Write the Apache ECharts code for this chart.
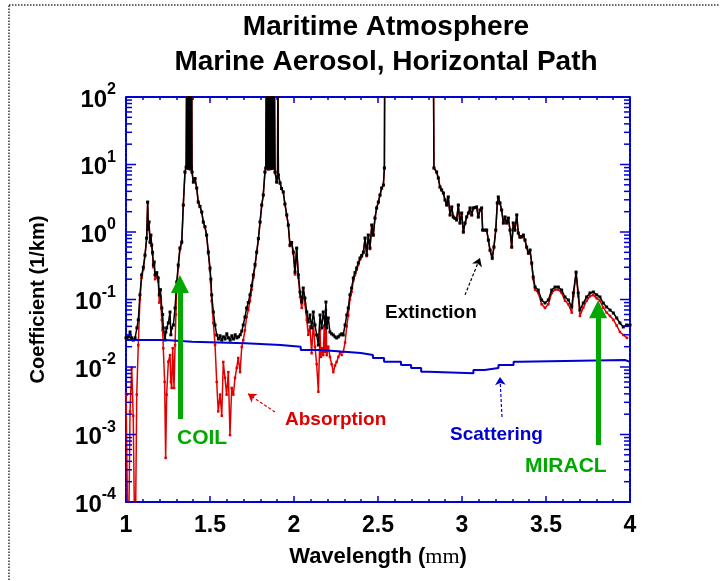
<!DOCTYPE html>
<html><head><meta charset="utf-8">
<script src="https://cdn.jsdelivr.net/npm/echarts/dist/echarts.min.js"></script>
<style>html,body{margin:0;padding:0;background:#fff}#c{width:720px;height:581px}</style>
</head><body><div id="c"></div>
<script>
// ---- data (wavelength in um, coefficient in 1/km) ----
const extinction = [
[1.0,0.027],[1.006,0.0269],[1.015,0.028],[1.024,0.033],[1.033,0.027],[1.043,0.025],[1.054,0.027],[1.065,0.038],[1.073,0.05],[1.083,0.117],[1.093,0.231],[1.103,0.3],[1.113,0.456],[1.123,0.815],[1.129,2.78],[1.133,1.1],[1.137,1.41],[1.143,0.711],[1.148,0.9],[1.153,0.641],[1.158,0.5],[1.163,0.325],[1.168,0.36],[1.173,0.231],[1.183,0.25],[1.192,0.208],[1.198,0.117],[1.205,0.14],[1.213,0.0748],[1.218,0.06],[1.222,0.0379],[1.232,0.0251],[1.237,0.033],[1.242,0.0379],[1.252,0.045],[1.262,0.0653],[1.267,0.03],[1.272,0.0379],[1.282,0.0419],[1.292,0.0748],[1.302,0.182],[1.311,0.325],[1.321,0.579],[1.332,0.711],[1.341,2.51],[1.351,7.74],[1.358,9.1],
[1.361,300],[1.364,9.5],[1.367,300],[1.370,8.8],[1.373,300],[1.376,9.2],[1.379,300],[1.382,8.6],[1.385,300],[1.388,9.0],[1.391,300],[1.393,7.74],
[1.401,5.5],[1.411,6.2],[1.421,4.48],[1.430,2.78],[1.440,2.4],[1.451,1.98],[1.460,1.41],[1.470,1.2],[1.480,0.903],[1.490,0.506],[1.5,0.293],[1.505,0.2],[1.510,0.117],[1.520,0.0653],[1.530,0.0419],[1.540,0.0298],[1.55,0.026],[1.56,0.029],[1.57,0.025],[1.58,0.028],[1.59,0.026],[1.60,0.031],[1.61,0.027],[1.62,0.025],[1.63,0.029],[1.64,0.026],[1.65,0.03],[1.66,0.027],[1.67,0.028],[1.68,0.03],[1.689,0.034],[1.698,0.0419],[1.708,0.055],[1.718,0.0748],[1.728,0.09],[1.738,0.117],[1.748,0.16],[1.758,0.231],[1.768,0.33],[1.778,0.506],[1.788,0.8],[1.798,1.41],[1.808,2.51],[1.817,3.53],[1.827,7.74],[1.832,8.87],
[1.835,300],[1.839,9.0],[1.843,300],[1.847,8.6],[1.851,300],[1.855,9.1],[1.859,300],[1.863,8.7],[1.867,300],[1.871,9.0],[1.875,300],[1.879,8.8],[1.883,300],[1.887,7.74],
[1.897,5.5],[1.902,6.5],[1.904,300],[1.907,7.0],[1.917,5.32],[1.926,4.4],[1.936,3.92],[1.946,2.6],[1.957,1.79],[1.966,1.27],[1.976,0.641],[1.986,0.7],[1.996,0.506],[2.006,0.255],[2.016,0.579],[2.026,0.231],[2.036,0.129],[2.046,0.0918],[2.055,0.148],[2.065,0.105],[2.076,0.0653],[2.085,0.0464],[2.095,0.0589],[2.105,0.0379],[2.115,0.0653],[2.125,0.0419],[2.135,0.0298],[2.145,0.0212],[2.155,0.0589],[2.165,0.0379],[2.174,0.0653],[2.185,0.0419],[2.190,0.0918],[2.195,0.0379],[2.204,0.0532],[2.214,0.033],[2.224,0.031],[2.234,0.0298],[2.244,0.028],[2.254,0.0269],[2.264,0.028],[2.274,0.0298],[2.284,0.031],[2.293,0.0298],[2.304,0.0419],[2.314,0.0589],[2.323,0.0748],[2.333,0.117],[2.343,0.148],[2.353,0.208],[2.363,0.25],[2.373,0.293],[2.383,0.35],[2.393,0.412],[2.403,0.45],[2.413,0.506],[2.423,0.815],[2.433,0.456],[2.442,0.903],[2.452,0.579],[2.463,1.27],[2.472,0.903],[2.482,1.61],[2.492,2.27],[2.502,2.78],[2.512,3.53],[2.522,4.48],[2.532,4.97],[2.538,8.87],[2.540,300],
[2.830,300],[2.833,8.87],[2.849,7.74],[2.859,6.31],[2.869,4.64],[2.879,4.2],[2.889,3.78],[2.899,2.98],[2.909,2.51],[2.918,3.30],[2.929,1.79],[2.939,2.35],[2.948,1.67],[2.958,1.6],[2.968,1.51],[2.978,2.51],[2.988,1.36],[2.998,1.91],[3.008,1.0],[3.018,1.36],[3.028,1.67],[3.038,1.91],[3.048,2.27],[3.058,1.79],[3.067,2.27],[3.077,2.3],[3.087,2.35],[3.097,1.67],[3.107,2.12],[3.117,2.27],[3.123,1.07],[3.135,1.07],[3.147,1.07],[3.157,0.761],[3.167,0.541],[3.180,0.412],[3.190,0.600],[3.201,1.07],[3.210,2.69],[3.216,3.30],[3.226,2.69],[3.236,2.12],[3.246,1.36],[3.256,1.67],[3.266,1.36],[3.276,1.61],[3.286,1.07],[3.296,0.600],[3.305,1.36],[3.315,1.07],[3.326,1.79],[3.335,0.967],[3.345,0.843],[3.355,0.85],[3.365,0.903],[3.375,0.761],[3.385,0.600],[3.395,0.489],[3.405,0.541],[3.415,0.347],[3.424,0.215],[3.435,0.153],[3.454,0.138],[3.474,0.0983],[3.494,0.0887],[3.514,0.0983],[3.534,0.138],[3.554,0.153],[3.573,0.153],[3.593,0.138],[3.613,0.109],[3.633,0.0983],[3.653,0.0774],[3.663,0.125],[3.679,0.255],[3.692,0.125],[3.702,0.0698],[3.722,0.0887],[3.742,0.109],[3.762,0.125],[3.782,0.129],[3.802,0.117],[3.821,0.109],[3.841,0.0887],[3.861,0.0774],[3.881,0.0698],[3.901,0.0631],[3.921,0.0532],[3.940,0.0449],[3.960,0.0392],[3.980,0.0419],[4.0,0.0419]
];

const absorption = [
[1.0,0.004],[1.006,0.0039],[1.014,0.00001],[1.024,0.0022],[1.034,0.0097],[1.043,0.0019],[1.054,0.00001],[1.064,0.0039],[1.073,0.021],[1.083,0.1],[1.093,0.21],[1.103,0.28],[1.113,0.44],[1.123,0.8],[1.129,2.75],[1.133,1.08],[1.137,1.39],[1.143,0.69],[1.148,0.88],[1.153,0.62],[1.158,0.47],[1.163,0.3],[1.168,0.33],[1.173,0.2],[1.183,0.22],[1.192,0.185],[1.198,0.09],[1.205,0.11],[1.213,0.05],[1.218,0.035],[1.222,0.019],[1.23,0.006],[1.236,0.00045],[1.242,0.0039],[1.252,0.012],[1.262,0.015],[1.267,0.006],[1.272,0.0049],[1.278,0.019],[1.286,0.0049],[1.292,0.021],[1.297,0.06],[1.302,0.15],[1.311,0.3],[1.321,0.55],[1.332,0.69],[1.341,2.48],[1.351,7.7],[1.358,9.05],
[1.361,300],[1.364,9.4],[1.367,300],[1.370,8.7],[1.373,300],[1.376,9.1],[1.379,300],[1.382,8.5],[1.385,300],[1.388,8.9],[1.391,300],[1.393,7.7],
[1.401,5.45],[1.411,6.15],[1.421,4.45],[1.430,2.75],[1.440,2.38],[1.451,1.96],[1.460,1.39],[1.470,1.18],[1.480,0.88],[1.490,0.48],[1.5,0.27],[1.505,0.18],[1.510,0.095],[1.520,0.045],[1.530,0.0212],[1.540,0.006],[1.549,0.0022],[1.560,0.0039],[1.570,0.0019],[1.579,0.0119],[1.589,0.0069],[1.599,0.0039],[1.609,0.0084],[1.619,0.00098],[1.629,0.0049],[1.639,0.0039],[1.649,0.0069],[1.659,0.0097],[1.668,0.0136],[1.679,0.0084],[1.689,0.0198],[1.698,0.025],[1.708,0.035],[1.718,0.055],[1.728,0.07],[1.738,0.095],[1.748,0.14],[1.758,0.21],[1.768,0.31],[1.778,0.49],[1.788,0.78],[1.798,1.39],[1.808,2.49],[1.817,3.5],[1.827,7.7],[1.832,8.85],
[1.835,300],[1.839,8.9],[1.843,300],[1.847,8.5],[1.851,300],[1.855,9.0],[1.859,300],[1.863,8.6],[1.867,300],[1.871,8.9],[1.875,300],[1.879,8.7],[1.883,300],[1.887,7.7],
[1.897,5.45],[1.902,6.45],[1.904,300],[1.907,6.95],[1.917,5.3],[1.926,4.38],[1.936,3.9],[1.946,2.58],[1.957,1.77],[1.966,1.25],[1.976,0.62],[1.986,0.68],[1.996,0.48],[2.006,0.235],[2.016,0.56],[2.026,0.21],[2.036,0.11],[2.046,0.075],[2.055,0.13],[2.065,0.085],[2.076,0.05],[2.085,0.03],[2.095,0.04],[2.105,0.016],[2.115,0.045],[2.125,0.02],[2.135,0.011],[2.145,0.0043],[2.155,0.035],[2.160,0.0141],[2.165,0.019],[2.174,0.015],[2.180,0.04],[2.185,0.0167],[2.190,0.07],[2.195,0.015],[2.204,0.02],[2.214,0.0141],[2.224,0.011],[2.234,0.0084],[2.244,0.0105],[2.254,0.0119],[2.264,0.0141],[2.274,0.0161],[2.284,0.0151],[2.293,0.0167],[2.304,0.023],[2.314,0.04],[2.323,0.058],[2.333,0.1],[2.343,0.13],[2.353,0.19],[2.363,0.23],[2.373,0.275],[2.383,0.33],[2.393,0.39],[2.403,0.43],[2.413,0.49],[2.423,0.8],[2.433,0.44],[2.442,0.89],[2.452,0.56],[2.463,1.25],[2.472,0.89],[2.482,1.59],[2.492,2.25],[2.502,2.76],[2.512,3.51],[2.522,4.46],[2.532,4.95],[2.538,8.85],[2.540,300],
[2.830,300],[2.833,8.86],[2.849,7.73],[2.859,6.3],[2.869,4.63],[2.879,4.19],[2.889,3.77],[2.899,2.97],[2.909,2.5],[2.918,3.29],[2.929,1.78],[2.939,2.34],[2.948,1.66],[2.958,1.59],[2.968,1.5],[2.978,2.5],[2.988,1.35],[2.998,1.9],[3.008,0.99],[3.018,1.35],[3.028,1.66],[3.038,1.9],[3.048,2.26],[3.058,1.78],[3.067,2.26],[3.077,2.29],[3.087,2.34],[3.097,1.66],[3.107,2.11],[3.117,2.26],[3.123,1.06],[3.135,1.06],[3.147,1.06],[3.157,0.75],[3.167,0.53],[3.180,0.4],[3.190,0.59],[3.201,1.06],[3.210,2.68],[3.216,3.29],[3.226,2.68],[3.236,2.11],[3.246,1.35],[3.256,1.66],[3.266,1.35],[3.276,1.6],[3.286,1.06],[3.296,0.59],[3.305,1.35],[3.315,1.06],[3.326,1.78],[3.335,0.955],[3.345,0.83],[3.355,0.84],[3.365,0.89],[3.375,0.75],[3.385,0.59],[3.395,0.477],[3.405,0.53],[3.415,0.335],[3.424,0.2],[3.435,0.14],[3.454,0.125],[3.474,0.085],[3.494,0.075],[3.514,0.085],[3.534,0.125],[3.554,0.14],[3.573,0.14],[3.593,0.125],[3.613,0.096],[3.633,0.085],[3.653,0.064],[3.663,0.112],[3.679,0.242],[3.692,0.112],[3.702,0.057],[3.722,0.076],[3.742,0.096],[3.762,0.112],[3.782,0.116],[3.802,0.104],[3.821,0.096],[3.841,0.076],[3.861,0.064],[3.881,0.057],[3.901,0.05],[3.921,0.041],[3.940,0.033],[3.960,0.0298],[3.982,0.027]
];

// scattering: stepped, each value holds from its wavelength to the next one
const scatWl     = [1.0, 1.233, 1.394, 1.711, 1.92, 2.04, 2.159, 2.279, 2.398, 2.47, 2.536, 2.637, 2.697, 2.757, 2.799, 3.068, 3.134, 3.217, 3.307, 3.343, 3.970, 4.0];
const scatValues = [0.0251, 0.0237, 0.0225, 0.0212, 0.0200, 0.0179, 0.0169, 0.0161, 0.0151, 0.0136, 0.0120, 0.0107, 0.00966, 0.00851, 0.00807, 0.00903, 0.00966, 0.0107, 0.0120, 0.0127, 0.0119, 0.0119];

// annotation arrows [from, to] in data coordinates
const coilArrow       = [[1.321, 0.0017], [1.321, 0.17]];
const miraclArrow     = [[3.81, 0.0007], [3.81, 0.072]];
const extinctionArrow = [[3.018, 0.117], [3.107, 0.412]];
const absorptionArrow = [[1.887, 0.00215], [1.726, 0.004]];
const scatteringArrow = [[3.238, 0.00182], [3.226, 0.0071]];

const xMin = 1, xMax = 4, xStep = 0.5;
const yMin = 1e-4, yMax = 100;

// ---- chart ----
const BLUE = '#0000d0', RED = '#e00000', GREEN = '#00a800';
const FONT = '"Liberation Sans", Arial, Helvetica, sans-serif';
const scattering = scatWl.map((w, i) => [w, scatValues[i]]);

const yTicks = [];
for (let k = -4; k <= 1; k++) for (let m = 1; m <= 9; m++) yTicks.push([xMin, m * Math.pow(10, k), m === 1 ? 1 : 0]);
yTicks.push([xMin, 100, 1]);

function arrowLine(a, color, width, type, sym, size) {
  return {
    silent: true, symbol: ['none', sym], symbolSize: size, animation: false,
    label: {show: false},
    lineStyle: {color: color, width: width, type: type},
    itemStyle: {color: color},
    data: [[{coord: a[0]}, {coord: a[1]}]]
  };
}

const chart = echarts.init(document.getElementById('c'), null, {renderer: 'canvas'});
const axisLine = {show: true, lineStyle: {color: BLUE, width: 2, type: [4, 1]}};
const xAxisBase = {
  type: 'value', min: xMin, max: xMax, interval: xStep, gridIndex: 0,
  axisLine: axisLine, splitLine: {show: false},
  axisTick: {show: true, inside: true, length: 6, lineStyle: {color: BLUE, width: 1.5}},
  minorTick: {show: true, splitNumber: 5, length: 3, lineStyle: {color: BLUE, width: 1.5}},
  minorSplitLine: {show: false}
};
chart.setOption({
  animation: false,
  backgroundColor: '#fff',
  grid: {left: 126, right: 90, top: 97, bottom: 79},
  xAxis: [
    Object.assign({}, xAxisBase, {
      position: 'bottom',
      axisLabel: {show: true, margin: 12, color: '#000', fontSize: 23, fontWeight: 'bold', fontFamily: FONT,
        formatter: v => String(v)},
      name: 'Wavelength ({m|mm})', nameLocation: 'middle', nameGap: 44,
      nameTextStyle: {color: '#000', fontSize: 22, fontWeight: 'bold', fontFamily: FONT,
        rich: {m: {fontFamily: '"Liberation Serif", "DejaVu Serif", serif', fontSize: 22, fontWeight: 'normal', color: '#000'}}}
    }),
    Object.assign({}, xAxisBase, {position: 'top', axisLabel: {show: false}})
  ],
  yAxis: [
    {type: 'log', logBase: 10, min: yMin, max: yMax, splitNumber: 6, position: 'left',
     axisLine: axisLine, splitLine: {show: false}, axisTick: {show: false},
     axisLabel: {show: true, margin: 10, color: '#000',
       formatter: v => '{b|10}{s|' + Math.round(Math.log10(v)) + '}',
       rich: {
         b: {fontSize: 24, fontWeight: 'bold', fontFamily: FONT, color: '#000', lineHeight: 30, verticalAlign: 'bottom'},
         s: {fontSize: 16, fontWeight: 'bold', fontFamily: FONT, color: '#000', lineHeight: 30, verticalAlign: 'top'}
       }},
     name: 'Coefficient (1/km)', nameLocation: 'middle', nameGap: 78, nameRotate: 90,
     nameTextStyle: {color: '#000', fontSize: 20, fontWeight: 'bold', fontFamily: FONT}},
    {type: 'log', logBase: 10, min: yMin, max: yMax, position: 'right',
     axisLine: axisLine, splitLine: {show: false}, axisTick: {show: false}, axisLabel: {show: false}}
  ],
  series: [
    {type: 'line', name: 'Absorption', data: absorption, z: 2,
     lineStyle: {color: RED, width: 1.5}, itemStyle: {color: RED},
     symbol: 'rect', symbolSize: 2.5, showSymbol: true, showAllSymbol: true, clip: true, silent: true},
    {type: 'line', name: 'Extinction', data: extinction, z: 3,
     lineStyle: {color: '#000', width: 1.5}, itemStyle: {color: '#000'},
     symbol: 'rect', symbolSize: 3, showSymbol: true, showAllSymbol: true, clip: true, silent: true},
    {type: 'line', name: 'Scattering', data: scattering, step: 'end', z: 4,
     lineStyle: {color: BLUE, width: 2}, showSymbol: false, symbol: 'none', clip: true, silent: true,
     markLine: arrowLine(scatteringArrow, BLUE, 1.2, [3, 2], 'arrow', 8)},
    {type: 'line', data: [], z: 5, markLine: arrowLine(extinctionArrow, '#000', 1.2, [3, 2], 'arrow', 8)},
    {type: 'line', data: [], z: 5, markLine: arrowLine(absorptionArrow, RED, 1.2, [3, 2], 'arrow', 8)},
    {type: 'line', data: [], z: 6, markLine: arrowLine(coilArrow, GREEN, 5, 'solid', 'triangle', 18)},
    {type: 'line', data: [], z: 6, markLine: arrowLine(miraclArrow, GREEN, 5, 'solid', 'triangle', 18)},
    {type: 'custom', data: yTicks, z: 10, silent: true, clip: false,
     renderItem: function (params, api) {
       const v = api.value(1), major = api.value(2);
       const pl = api.coord([xMin, v]), pr = api.coord([xMax, v]);
       const len = major ? 10 : 6;
       const st = {stroke: BLUE, lineWidth: 1.5};
       return {type: 'group', children: [
         {type: 'line', shape: {x1: pl[0], y1: pl[1], x2: pl[0] + len, y2: pl[1]}, style: st},
         {type: 'line', shape: {x1: pr[0] - len, y1: pr[1], x2: pr[0], y2: pr[1]}, style: st}
       ]};
     }}
  ],
  graphic: [
    {type: 'rect', z: 0, silent: true, shape: {x: 9, y: 5, width: 730, height: 600},
     style: {fill: null, stroke: '#333', lineWidth: 1.5, lineDash: [1.5, 1.5]}},
    {type: 'text', z: 100, style: {x: 386, y: 27, text: 'Maritime Atmosphere', textAlign: 'center', textVerticalAlign: 'middle',
      font: 'bold 28px ' + FONT, fill: '#000'}},
    {type: 'text', z: 100, style: {x: 386, y: 62, text: 'Marine Aerosol, Horizontal Path', textAlign: 'center', textVerticalAlign: 'middle',
      font: 'bold 28px ' + FONT, fill: '#000'}},
    {type: 'text', z: 100, style: {x: 385, y: 313, text: 'Extinction', textVerticalAlign: 'middle', font: 'bold 19px ' + FONT, fill: '#000'}},
    {type: 'text', z: 100, style: {x: 285, y: 420, text: 'Absorption', textVerticalAlign: 'middle', font: 'bold 19px ' + FONT, fill: RED}},
    {type: 'text', z: 100, style: {x: 450, y: 435, text: 'Scattering', textVerticalAlign: 'middle', font: 'bold 19px ' + FONT, fill: BLUE}},
    {type: 'text', z: 100, style: {x: 177, y: 438, text: 'COIL', textVerticalAlign: 'middle', font: 'bold 21px ' + FONT, fill: GREEN}},
    {type: 'text', z: 100, style: {x: 525, y: 466, text: 'MIRACL', textVerticalAlign: 'middle', font: 'bold 21px ' + FONT, fill: GREEN}}
  ]
});
</script>
</body></html>
